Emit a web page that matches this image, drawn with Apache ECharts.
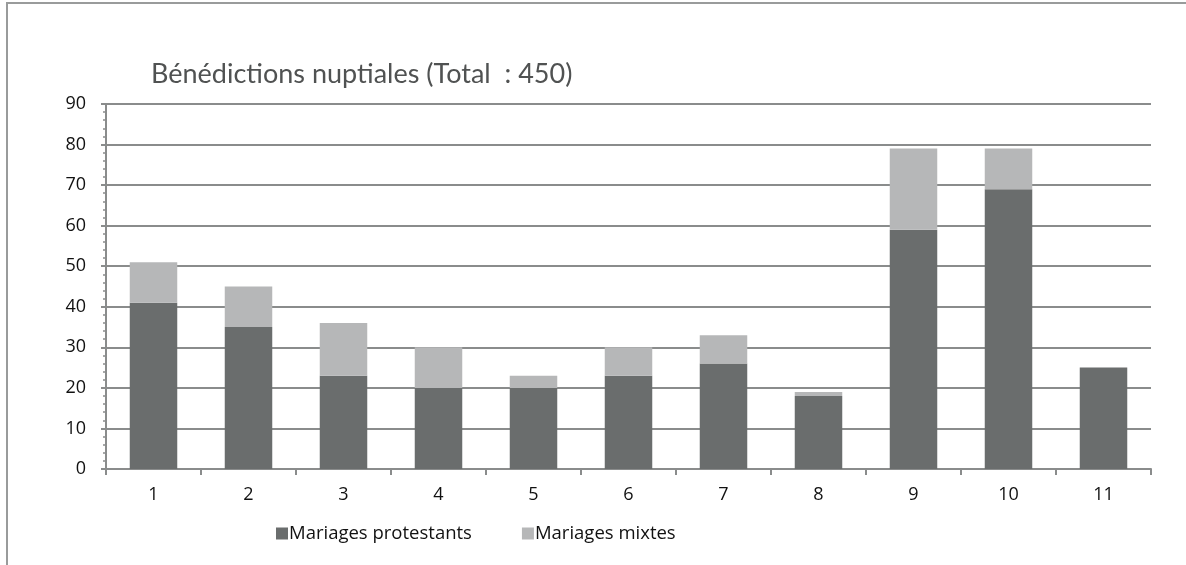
<!DOCTYPE html>
<html>
<head>
<meta charset="utf-8">
<style>
  html, body { margin: 0; padding: 0; background: #ffffff; }
  #chart { width: 1186px; height: 565px; }
</style>
<script src="https://cdn.jsdelivr.net/npm/echarts@6/dist/echarts.min.js"></script>
</head>
<body>
<div id="chart"></div>
<script>
// Periods 1..11
const categories = ['1', '2', '3', '4', '5', '6', '7', '8', '9', '10', '11'];
// Protestant marriages per period
const protestants = [41, 35, 23, 20, 20, 23, 26, 18, 59, 69, 25];
// Mixed marriages per period
const mixtes = [10, 10, 13, 10, 3, 7, 7, 1, 20, 10, 0];
const seriesNames = ['Mariages protestants', 'Mariages mixtes'];
const titleText = 'Bénédictions nuptiales (Total\u00a0\u00a0: 450)';

const chart = echarts.init(document.getElementById('chart'), null, { renderer: 'canvas' });
const axisGray = '#8a8c8c';
const labelFont = '"Open Sans", "Noto Sans", sans-serif';

chart.setOption({
  animation: false,
  backgroundColor: '#ffffff',
  graphic: [{
    type: 'rect',
    shape: { x: 7, y: 3, width: 1300, height: 700 },
    style: { fill: 'none', stroke: '#999b9b', lineWidth: 2 },
    silent: true
  }],
  title: {
    text: titleText,
    left: 146,
    top: 56,
    textStyle: {
      fontFamily: 'Lato, "Noto Sans", sans-serif',
      fontWeight: 'normal',
      fontSize: 27,
      color: '#505252'
    }
  },
  legend: {
    top: 519,
    left: 271,
    itemWidth: 12,
    itemHeight: 12,
    itemGap: 50,
    icon: 'rect',
    textStyle: { fontFamily: labelFont, fontSize: 18.5, color: '#111', padding: [0, 0, 0, -4] },
    data: seriesNames
  },
  grid: { left: 106, right: 35, top: 104, bottom: 96, containLabel: false },
  xAxis: {
    type: 'category',
    data: categories,
    boundaryGap: true,
    axisLine: { lineStyle: { color: axisGray, width: 2 } },
    axisTick: { show: true, alignWithLabel: false, length: 6, lineStyle: { color: axisGray, width: 2 } },
    axisLabel: { fontFamily: labelFont, fontSize: 18, color: '#111', margin: 17 }
  },
  yAxis: {
    type: 'value',
    min: 0,
    max: 90,
    interval: 10,
    axisLine: { show: true, lineStyle: { color: axisGray, width: 2 } },
    axisTick: { show: true, length: 5, lineStyle: { color: axisGray, width: 2 } },
    minorTick: { show: true, splitNumber: 5, length: 3, lineStyle: { color: axisGray, width: 1.5 } },
    splitLine: { show: true, lineStyle: { color: axisGray, width: 2 } },
    axisLabel: { fontFamily: labelFont, fontSize: 18, color: '#111', margin: 20 }
  },
  series: [
    {
      name: seriesNames[0],
      type: 'bar',
      stack: 'total',
      data: protestants,
      barWidth: '50%',
      itemStyle: { color: '#6a6d6d' }
    },
    {
      name: seriesNames[1],
      type: 'bar',
      stack: 'total',
      data: mixtes,
      barWidth: '50%',
      itemStyle: { color: '#b6b7b8' }
    }
  ]
});
</script>
</body>
</html>
